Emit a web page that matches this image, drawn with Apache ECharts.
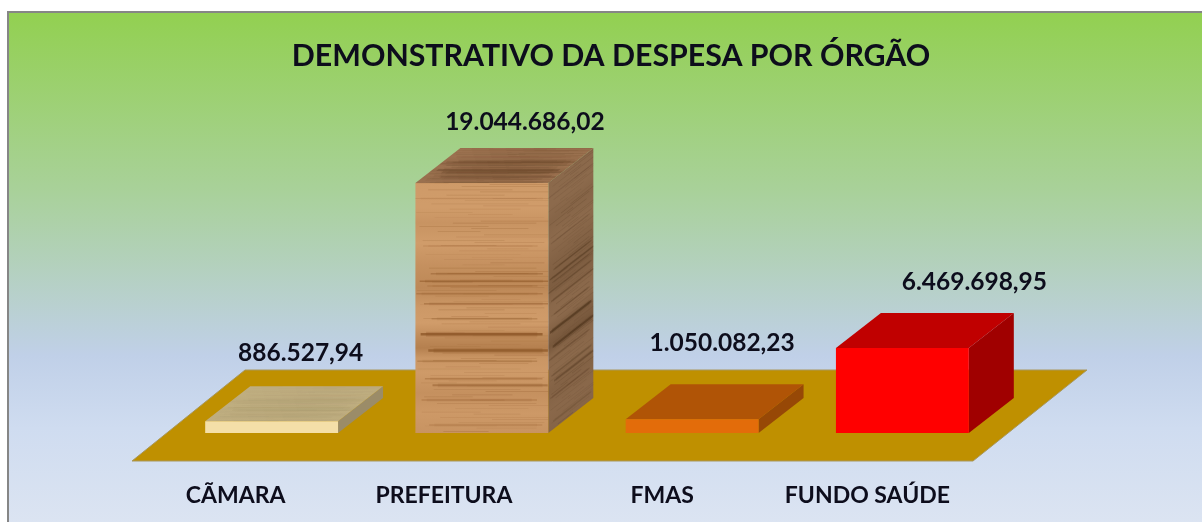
<!DOCTYPE html>
<html>
<head>
<meta charset="utf-8">
<title>Demonstrativo da despesa por órgão</title>
<script src="https://cdn.jsdelivr.net/npm/echarts@6/dist/echarts.min.js"></script>
<style>
  html, body { margin: 0; padding: 0; background: #fff; }
  #chart { width: 1202px; height: 522px; }
</style>
</head>
<body>
<div id="chart"></div>
<script>
const categories = ['CÃMARA', 'PREFEITURA', 'FMAS', 'FUNDO SAÚDE']
const despesa = [886527.94, 19044686.02, 1050082.23, 6469698.95]

const FONT = 'Lato, "Noto Sans", sans-serif'
const TEXT_COLOR = '#0d0d1c'
const DEPTH_X = 45
const DEPTH_Y = -35

// hand placed in the original, so each label has its own nudge
const valueLabelShift = [[29, -68], [43, -61], [30, -76], [72, -66]]
const axisLabelShift = [36, 38, 30, 35]

const faces = [
  { front: '#f4dfa8', top: '#bfae80', side: '#9b8c68', wood: 'pale' },
  { front: '#d09c6a', top: '#9c7250', side: '#8c6a4c', wood: 'dark' },
  { front: '#e36c0a', top: '#b05406', side: '#974806' },
  { front: '#ff0000', top: '#c00000', side: '#a00000' }
]

// main dark bands of the wood, as fraction of the face height and strength
const woodBands = [
  [0.06, 0.14, 1], [0.25, 0.2, 1], [0.36, 0.32, 1.5], [0.39, 0.42, 1.5], [0.41, 0.28, 1],
  [0.44, 0.28, 1.5], [0.48, 0.34, 1.5], [0.54, 0.26, 1.5], [0.6, 0.62, 2.5],
  [0.665, 0.55, 2.5], [0.71, 0.26, 1.5], [0.78, 0.28, 1.5], [0.805, 0.36, 2], [0.865, 0.24, 1.5], [0.965, 0.18, 1.5]
]

// soft tone of the wood down the face, v and how much darker than base (0..1)
const woodTones = [
  [0, 0.02], [0.1, 0], [0.16, 0.1], [0.24, 0], [0.33, 0.14], [0.42, 0.24], [0.5, 0.04],
  [0.56, 0], [0.62, 0.22], [0.66, 0.34], [0.7, 0.08], [0.76, 0.02], [0.84, 0.14], [0.92, 0.04], [1, 0.1]
]

const frac = (n) => n - Math.floor(n)

// fixed pattern of fine grain, golden ratio steps so it looks irregular but never changes
const fineGrain = Array.from({ length: 90 }, (_, i) => ({
  v: frac(i * 0.618034),
  u0: frac(i * 0.37) * 0.6,
  len: 0.25 + frac(i * 0.73) * 0.6,
  a: 0.08 + frac(i * 0.29) * 0.16
}))

// map (u, v) of a parallelogram face to screen: o + u*a + v*b
const onFace = (f, u, v) => [
  f.o[0] + u * f.a[0] + v * f.b[0],
  f.o[1] + u * f.a[1] + v * f.b[1]
]

const facePoly = (f, fill) => ({
  type: 'polygon',
  shape: { points: [onFace(f, 0, 0), onFace(f, 1, 0), onFace(f, 1, 1), onFace(f, 0, 1)] },
  style: { fill: fill }
})

const faceStrip = (f, u0, u1, v0, v1, fill, alpha) => ({
  type: 'polygon',
  shape: { points: [onFace(f, u0, v0), onFace(f, u1, v0), onFace(f, u1, v1), onFace(f, u0, v1)] },
  style: { fill: fill, opacity: alpha }
})

// gradient running across the grain, so lines of equal colour stay parallel to the a edge
const toneFill = (f, color, strength) => {
  const la = f.a[0] * f.a[0] + f.a[1] * f.a[1]
  const k = (f.b[0] * f.a[0] + f.b[1] * f.a[1]) / la
  const nx = f.b[0] - k * f.a[0]
  const ny = f.b[1] - k * f.a[1]
  const rgb = echarts.color.parse(color)
  const stops = woodTones.map((t) => ({
    offset: t[0],
    color: 'rgba(' + rgb[0] + ',' + rgb[1] + ',' + rgb[2] + ',' + (t[1] * strength) + ')'
  }))
  return new echarts.graphic.LinearGradient(f.o[0], f.o[1], f.o[0] + nx, f.o[1] + ny, stops, true)
}

const woodGrain = (f, color, strength, bandScale) => {
  const out = [facePoly(f, toneFill(f, color, strength))]
  const thick = 1 / Math.abs(f.b[1])
  fineGrain.forEach((g) => {
    const h = thick * 0.7
    const v = Math.min(1 - h, g.v)
    out.push(faceStrip(f, g.u0, Math.min(1, g.u0 + g.len), v, v + h, color, g.a * strength))
  })
  woodBands.forEach((b, i) => {
    const u0 = frac(i * 0.41) * 0.14
    const u1 = 1 - frac(i * 0.67) * 0.12
    const h = thick * b[2] * bandScale
    out.push(faceStrip(f, u0, u1, b[0], b[0] + h, color, b[1] * strength))
    out.push(faceStrip(f, u0 + 0.04, u1 - 0.04, b[0] - h / 2, b[0] + h * 1.5, color, b[1] * strength * 0.3))
  })
  return out
}

const renderBar = (params, api) => {
  const i = api.value(0)
  const base = api.coord([i, 0])
  const head = api.coord([i, api.value(1)])
  const w = api.size([1, 0])[0] * 0.632
  const x0 = base[0] - w / 2
  const look = faces[i]

  const front = { o: [x0, head[1]], a: [w, 0], b: [0, base[1] - head[1]] }
  const top = { o: [x0 + DEPTH_X, head[1] + DEPTH_Y], a: [w, 0], b: [-DEPTH_X, -DEPTH_Y] }
  const side = { o: [x0 + w, head[1]], a: [DEPTH_X, DEPTH_Y], b: [0, base[1] - head[1]] }

  const children = []
  children.push(facePoly(side, look.side), facePoly(top, look.top), facePoly(front, look.front))

  if (look.wood === 'dark') {
    children.push(...woodGrain(front, '#80491a', 1, 1))
    children.push(...woodGrain(side, '#3f2610', 0.8, 1))
    children.push(...woodGrain(top, '#4a2c14', 0.4, 0.8))
  } else if (look.wood === 'pale') {
    children.push(...woodGrain(top, '#8d7c52', 0.2, 0.4))
  }

  const shift = valueLabelShift[i]
  children.push({
    type: 'text',
    x: base[0] + shift[0],
    y: head[1] + shift[1],
    style: {
      text: api.value(2),
      fill: TEXT_COLOR,
      font: 'bold 24.5px ' + FONT,
      align: 'center',
      verticalAlign: 'middle'
    },
    z2: 10
  })

  return { type: 'group', children: children }
}

const money = (v) => v.toLocaleString('pt-BR', { minimumFractionDigits: 2, maximumFractionDigits: 2 })

const chart = echarts.init(document.getElementById('chart'), null, { renderer: 'canvas' })

chart.setOption({
  animation: false,
  backgroundColor: '#ffffff',
  title: {
    text: 'DEMONSTRATIVO DA DESPESA POR ÓRGÃO',
    left: 606,
    top: 36,
    textAlign: 'center',
    textStyle: { fontFamily: FONT, fontWeight: 'bold', fontSize: 30.3, color: TEXT_COLOR }
  },
  graphic: [
    {
      type: 'rect',
      z: -2,
      shape: { x: 8, y: 12, width: 1200, height: 520 },
      style: {
        stroke: '#868686',
        lineWidth: 2,
        fill: new echarts.graphic.LinearGradient(0, 0, 0, 1, [
          { offset: 0, color: '#92d050' },
          { offset: 0.35, color: '#a9d19b' },
          { offset: 0.66, color: '#c0d0e8' },
          { offset: 0.8, color: '#cfdcf0' },
          { offset: 1, color: '#dde5f2' }
        ])
      }
    },
    {
      // the table the bars stand on
      type: 'polygon',
      z: -1,
      shape: { points: [[132, 461], [245, 370], [1087, 370], [973, 461]] },
      style: { fill: '#bf9000', stroke: '#a8975c', lineWidth: 1 }
    }
  ],
  grid: { left: 166.5, width: 841, top: 170.4, height: 262.6 },
  xAxis: {
    type: 'category',
    data: categories.map((c, i) => ({
      value: c,
      textStyle: { padding: [0, axisLabelShift[i] * 2, 0, 0] }
    })),
    axisLine: { show: false },
    axisTick: { show: false },
    axisLabel: {
      interval: 0,
      margin: 51,
      fontFamily: FONT,
      fontWeight: 'bold',
      fontSize: 23,
      color: TEXT_COLOR
    }
  },
  yAxis: {
    type: 'value',
    min: 0,
    max: 20000000,
    show: false
  },
  series: [
    {
      type: 'custom',
      renderItem: renderBar,
      data: categories.map((c, i) => [i, despesa[i], money(despesa[i])]),
      encode: { x: 0, y: 1 }
    }
  ]
})

window.addEventListener('resize', () => chart.resize())
</script>
</body>
</html>
